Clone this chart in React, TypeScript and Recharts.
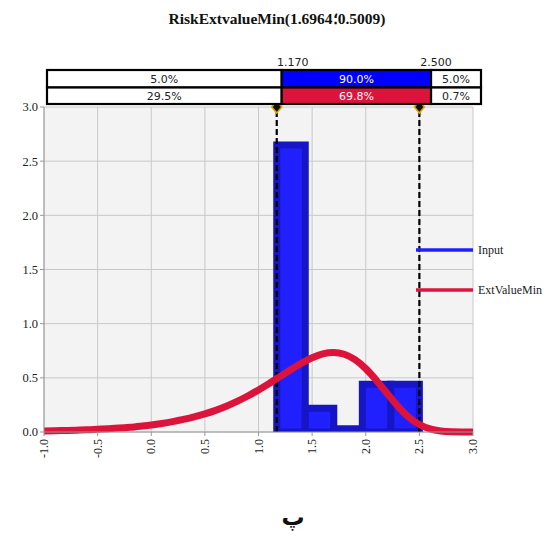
import React from "react";
import {
  ComposedChart,
  Line,
  XAxis,
  YAxis,
  CartesianGrid,
  ReferenceArea,
  ReferenceLine,
  ReferenceDot,
  Legend,
} from "recharts";

// ---- data ----
const xTicks = [-1, -0.5, 0, 0.5, 1, 1.5, 2, 2.5, 3];
const yTicks = [0, 0.5, 1, 1.5, 2, 2.5, 3];

const binEdges = [1.17, 1.436, 1.702, 1.968, 2.234, 2.5];
const binHeights = [2.65, 0.22, 0.03, 0.44, 0.44];

const curveX = [
  -1.0, -0.9, -0.8, -0.7, -0.6, -0.5, -0.4, -0.3, -0.2, -0.1, 0.0, 0.1, 0.2, 0.3,
  0.4, 0.5, 0.6, 0.7, 0.8, 0.9, 1.0, 1.1, 1.2, 1.3, 1.4, 1.5, 1.6, 1.7, 1.8, 1.9,
  2.0, 2.1, 2.2, 2.3, 2.4, 2.5, 2.6, 2.7, 2.8, 2.9, 3.0,
];
const curveY = [
  0.009, 0.011, 0.014, 0.017, 0.02, 0.025, 0.03, 0.036, 0.044, 0.054, 0.065,
  0.079, 0.096, 0.116, 0.139, 0.167, 0.2, 0.238, 0.282, 0.332, 0.388, 0.448,
  0.511, 0.575, 0.635, 0.686, 0.722, 0.734, 0.718, 0.668, 0.585, 0.476, 0.355,
  0.237, 0.138, 0.069, 0.028, 0.009, 0.002, 0.0003, 0.0,
];

const markers = [1.17, 2.5];
const markerLabels = ["1.170", "2.500"];
const row1 = ["5.0%", "90.0%", "5.0%"];
const row2 = ["29.5%", "69.8%", "0.7%"];
const seriesNames = ["Input", "ExtValueMin"];

const titleText = "RiskExtvalueMin(1.6964\u061B\u200E0.5009)";
const captionText = "پ";

// ---- styles ----
const BLUE = "#2020ff";
const BLUE_DARK = "#1616c4";
const RED = "#dc143c";
const SERIF = "'Liberation Serif', 'Times New Roman', serif";
const SANS = "'DejaVu Sans', 'Liberation Sans', sans-serif";

const curveData = curveX.map((x, i) => ({ x, y: curveY[i] }));

// table layout scale (table band above plot)
const tableX = (v: number) => 281.7 + (v - 1.17) * 112.3;
const T_LEFT = 47;
const T_RIGHT = 481;
const T_TOP = 70;
const T_MID = 87.5;
const T_BOT = 104;

const XTick = (props: any) => {
  const { x, y, payload } = props;
  const yy = y + 1;
  return (
    <text
      x={x}
      y={yy}
      transform={`rotate(-90, ${x}, ${yy})`}
      textAnchor="end"
      dominantBaseline="central"
      fontSize={12}
      fontFamily={SERIF}
      fill="#222"
    >
      {Number(payload.value).toFixed(1)}
    </text>
  );
};

const Diamond = (props: any) => {
  const { cx, cy } = props;
  return (
    <path
      d={`M${cx},${cy - 6} L${cx + 5},${cy} L${cx},${cy + 6} L${cx - 5},${cy} Z`}
      fill="#111"
      stroke="#e0a800"
      strokeWidth={1.5}
    />
  );
};

const LegendContent = () => (
  <svg width={140} height={64}>
    <line x1={0} y1={12} x2={57} y2={12} stroke={BLUE} strokeWidth={3.5} />
    <text x={62} y={12} dominantBaseline="central" fontSize={12} fontFamily={SERIF} fill="#222">
      {seriesNames[0]}
    </text>
    <line x1={0} y1={52} x2={57} y2={52} stroke={RED} strokeWidth={3.5} />
    <text x={62} y={52} dominantBaseline="central" fontSize={12} fontFamily={SERIF} fill="#222">
      {seriesNames[1]}
    </text>
  </svg>
);

export default function App() {
  const d1 = tableX(markers[0]);
  const d2 = tableX(markers[1]);
  const cols = [
    [T_LEFT, d1],
    [d1, d2],
    [d2, T_RIGHT],
  ];
  return (
    <div
      style={{
        position: "absolute",
        left: 0,
        top: 0,
        width: 555,
        height: 536,
        background: "#fff",
        overflow: "hidden",
      }}
    >
      <ComposedChart
        width={555}
        height={536}
        data={curveData}
        margin={{ top: 107, right: 82, bottom: 74, left: 4 }}
      >
        <CartesianGrid fill="#f3f3f3" stroke="#c8c8c8" strokeWidth={1} />
        <XAxis
          dataKey="x"
          type="number"
          domain={[-1, 3]}
          ticks={xTicks}
          interval={0}
          allowDataOverflow
          height={30}
          tick={<XTick />}
          tickSize={4}
          axisLine={{ stroke: "#999" }}
          tickLine={{ stroke: "#999" }}
        />
        <YAxis
          type="number"
          domain={[0, 3]}
          ticks={yTicks}
          interval={0}
          width={40}
          tickSize={4}
          tickFormatter={(v: number) => v.toFixed(1)}
          tick={{ fontSize: 12.5, fontFamily: SERIF, fill: "#222" }}
          axisLine={{ stroke: "#999" }}
          tickLine={{ stroke: "#999" }}
        />
        {binHeights.map((h, i) => (
          <ReferenceArea
            key={"bin" + i}
            x1={binEdges[i]}
            x2={binEdges[i + 1]}
            y1={0}
            y2={h}
            fill={BLUE}
            fillOpacity={1}
            stroke={BLUE_DARK}
            strokeWidth={7}
            ifOverflow="hidden"
          />
        ))}
        {markers.map((m) => (
          <ReferenceLine
            key={"rl" + m}
            x={m}
            stroke="#000"
            strokeWidth={2.2}
            strokeDasharray="6 3"
          />
        ))}
        <Line
          type="monotone"
          dataKey="y"
          stroke={RED}
          strokeWidth={7}
          dot={false}
          activeDot={false}
          isAnimationActive={false}
        />
        {markers.map((m) => (
          <ReferenceDot
            key={"rd" + m}
            x={m}
            y={3}
            ifOverflow="visible"
            shape={<Diamond />}
          />
        ))}
        <Legend
          layout="vertical"
          align="center"
          verticalAlign="middle"
          wrapperStyle={{ position: "absolute", left: 416, top: 238, width: 140, height: 64 }}
          content={<LegendContent />}
        />
      </ComposedChart>

      <svg
        width={555}
        height={536}
        style={{ position: "absolute", left: 0, top: 0, pointerEvents: "none" }}
      >
        <text
          x={277}
          y={24}
          textAnchor="middle"
          direction="ltr"
          fontSize={15.5}
          fontWeight="bold"
          fontFamily={SERIF}
          fill="#111"
        >
          {titleText}
        </text>
        {markers.map((m, i) => (
          <text
            key={"ml" + i}
            x={tableX(m) + (i === 0 ? 11 : 5)}
            y={66}
            textAnchor="middle"
            fontSize={11}
            fontFamily={SANS}
            fill="#222"
          >
            {markerLabels[i]}
          </text>
        ))}
        {[row1, row2].map((row, r) =>
          row.map((label, c) => {
            const [a, b] = cols[c];
            const top = r === 0 ? T_TOP : T_MID;
            const bot = r === 0 ? T_MID : T_BOT;
            const fill = c === 1 ? (r === 0 ? "#0000ff" : RED) : "#fff";
            return (
              <g key={`c${r}${c}`}>
                <rect x={a} y={top} width={b - a} height={bot - top} fill={fill} stroke="#000" strokeWidth={2.2} />
                <text
                  x={(a + b) / 2}
                  y={(top + bot) / 2 + 1}
                  textAnchor="middle"
                  dominantBaseline="central"
                  fontSize={11}
                  fontFamily={SANS}
                  fill={c === 1 ? "#fff" : "#222"}
                >
                  {label}
                </text>
              </g>
            );
          })
        )}
        <text
          x={293}
          y={525}
          textAnchor="middle"
          fontSize={23}
          fontWeight="bold"
          fontFamily="'DejaVu Sans', 'Noto Sans', sans-serif"
          fill="#111"
        >
          {captionText}
        </text>
      </svg>
    </div>
  );
}
